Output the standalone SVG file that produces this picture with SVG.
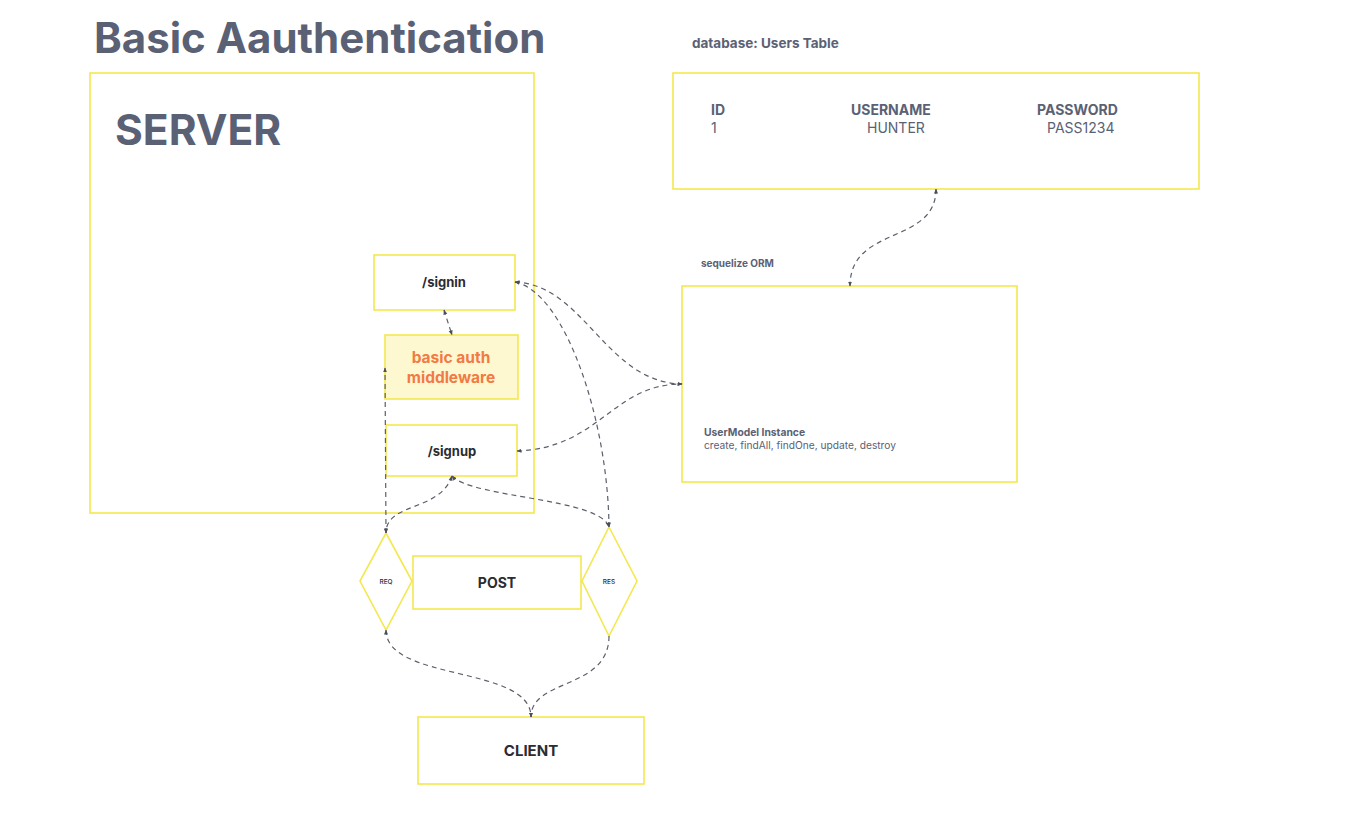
<svg xmlns="http://www.w3.org/2000/svg" width="1363" height="832" viewBox="0 0 1363 832">
<defs>
<style>
.box{fill:#ffffff;stroke:#f3e84e;stroke-width:1.6}
.mw{fill:#fdf8cf;stroke:#f3e84e;stroke-width:1.6}
.t{font-family:Inter,"Liberation Sans",sans-serif}
.slate{fill:#5a6175}
.dark{fill:#2a2c33;font-weight:700}
.con{fill:none;stroke:#5a5f6b;stroke-width:1.2;stroke-dasharray:5 4}
</style>
<marker id="ah" viewBox="0 0 10 10" refX="9" refY="5" markerWidth="5" markerHeight="5" markerUnits="userSpaceOnUse" orient="auto-start-reverse">
<path d="M0,1 L10,5 L0,9 z" fill="#4a4f5b"/>
</marker>
</defs>
<rect width="1363" height="832" fill="#ffffff"/>
<text class="t slate" x="94" y="53" font-size="42" font-weight="700">Basic Aauthentication</text>
<text class="t slate" x="692" y="48" font-size="13.5" font-weight="700">database: Users Table</text>

<g id="server">
<rect class="box" x="90" y="73" width="444" height="440"/>
<text class="t slate" x="115" y="145" font-size="42.5" font-weight="700">SERVER</text>
</g>
<g id="signin">
<rect class="box" x="374" y="255" width="141" height="55"/>
<text class="t dark" x="444" y="287" font-size="13" text-anchor="middle">/signin</text>
</g>
<g id="middleware">
<rect class="mw" x="385" y="335" width="133" height="64"/>
<text class="t" x="451" y="363" font-size="15.5" font-weight="700" fill="#f27a45" text-anchor="middle">basic auth</text>
<text class="t" x="451" y="383" font-size="15.5" font-weight="700" fill="#f27a45" text-anchor="middle">middleware</text>
</g>
<g id="signup">
<rect class="box" x="386" y="425" width="131" height="51"/>
<text class="t dark" x="452" y="456" font-size="13" text-anchor="middle">/signup</text>
</g>
<g id="req">
<polygon class="box" points="386,533 412,581 386,630 360,581"/>
<text class="t" x="386" y="583.5" font-size="6.5" font-weight="500" fill="#2a2c33" text-anchor="middle">REQ</text>
</g>
<g id="post">
<rect class="box" x="413" y="556" width="168" height="53"/>
<text class="t dark" x="497" y="588" font-size="14" text-anchor="middle">POST</text>
</g>
<g id="res">
<polygon class="box" points="609,527 637,581 609,636 582,581"/>
<text class="t" x="609" y="583.5" font-size="6.5" font-weight="500" fill="#2a2c33" text-anchor="middle">RES</text>
</g>
<g id="client">
<rect class="box" x="418" y="717" width="226" height="67"/>
<text class="t dark" x="531" y="756" font-size="15" text-anchor="middle">CLIENT</text>
</g>
<g id="usersTable">
<rect class="box" x="673" y="73" width="526" height="116"/>
<text class="t slate" x="711" y="115" font-size="14" font-weight="700">ID</text>
<text class="t slate" x="711" y="133" font-size="14">1</text>
<text class="t slate" x="851" y="115" font-size="14" font-weight="700">USERNAME</text>
<text class="t slate" x="867" y="133" font-size="14">HUNTER</text>
<text class="t slate" x="1037" y="115" font-size="14" font-weight="700">PASSWORD</text>
<text class="t slate" x="1047" y="133" font-size="14">PASS1234</text>
</g>
<g id="orm">
<text class="t slate" x="701" y="267" font-size="10" font-weight="700">sequelize ORM</text>
<rect class="box" x="682" y="286" width="335" height="196"/>
<text class="t slate" x="704" y="436" font-size="10.3" font-weight="700">UserModel Instance</text>
<text class="t slate" x="704" y="449" font-size="10.2">create, findAll, findOne, update, destroy</text>
</g>
<g id="connectors">
<path class="con" marker-start="url(#ah)" marker-end="url(#ah)" d="M936,189 C936,245 850,225 850,286"/>
<path class="con" marker-start="url(#ah)" marker-end="url(#ah)" d="M515,282 C585,285 605,382 682,384"/>
<path class="con" marker-start="url(#ah)" marker-end="url(#ah)" d="M517,451 C600,448 612,384 682,384"/>
<path class="con" marker-start="url(#ah)" marker-end="url(#ah)" d="M515,282 C565,292 608,420 609,527"/>
<path class="con" marker-start="url(#ah)" marker-end="url(#ah)" d="M452,476 C472,498 600,498 609,527"/>
<path class="con" marker-start="url(#ah)" marker-end="url(#ah)" d="M452,476 C440,512 386,502 386,533"/>
<path class="con" marker-start="url(#ah)" marker-end="url(#ah)" d="M386,533 L385,368"/>
<path class="con" marker-start="url(#ah)" marker-end="url(#ah)" d="M444,310 L452,335"/>
<path class="con" marker-start="url(#ah)" marker-end="url(#ah)" d="M386,630 C386,682 531,665 531,717"/>
<path class="con" marker-end="url(#ah)" d="M609,636 C609,690 531,678 531,717"/>
</g>
</svg>
